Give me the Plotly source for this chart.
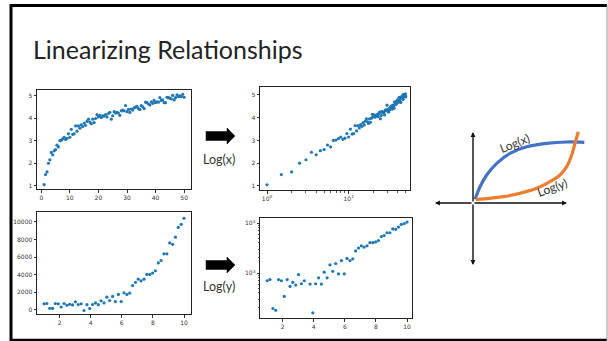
import plotly.graph_objects as go

W, H = 608, 341

# ---------------- data ----------------
x_log = [1.0, 1.5, 2.0, 2.5, 3.0, 3.5, 4.0, 4.5, 5.0, 5.5, 6.0, 6.5, 7.0, 7.5, 8.0, 8.5, 9.0, 9.5, 10.0,
         10.5, 11.0, 11.5, 12.0, 12.5, 13.0, 13.5, 14.0, 14.5, 15.0, 15.5, 16.0, 16.5, 17.0, 17.5, 18.0,
         18.5, 19.0, 19.5, 20.0, 20.5, 21.0, 21.5, 22.0, 22.5, 23.0, 23.5, 24.0, 24.5, 25.0, 25.5, 26.0,
         26.5, 27.0, 27.5, 28.0, 28.5, 29.0, 29.5, 30.0, 30.5, 31.0, 31.5, 32.0, 32.5, 33.0, 33.5, 34.0,
         34.5, 35.0, 35.5, 36.0, 36.5, 37.0, 37.5, 38.0, 38.5, 39.0, 39.5, 40.0, 40.5, 41.0, 41.5, 42.0,
         42.5, 43.0, 43.5, 44.0, 44.5, 45.0, 45.5, 46.0, 46.5, 47.0, 47.5, 48.0, 48.5, 49.0, 49.5, 50.0]
y_log = [1.05, 1.50, 1.62, 2.00, 2.15, 2.48, 2.37, 2.55, 2.60, 2.80, 2.72, 3.00, 3.02, 3.08, 3.15, 3.05,
         3.10, 3.30, 3.15, 3.50, 3.28, 3.30, 3.65, 3.42, 3.65, 3.55, 3.70, 3.62, 3.78, 3.68, 3.85, 3.95,
         3.82, 3.75, 3.95, 3.80, 3.98, 4.15, 4.05, 4.12, 4.02, 4.10, 4.08, 4.15, 4.05, 4.20, 4.25, 3.95,
         4.10, 4.28, 4.22, 4.25, 4.22, 4.12, 4.32, 4.35, 4.32, 4.55, 4.28, 4.38, 4.25, 4.40, 4.35, 4.45,
         4.48, 4.52, 4.42, 4.38, 4.55, 4.50, 4.42, 4.70, 4.68, 4.62, 4.58, 4.72, 4.65, 4.78, 4.68, 4.72,
         4.70, 4.90, 4.78, 4.80, 4.68, 4.68, 4.92, 4.90, 4.88, 4.85, 5.00, 4.80, 4.90, 5.02, 4.95, 4.98,
         4.95, 5.05, 4.92]

x_exp = [1.00, 1.18, 1.37, 1.55, 1.73, 1.92, 2.10, 2.29, 2.47, 2.65, 2.84, 3.02, 3.20, 3.39, 3.57, 3.76,
         3.94, 4.12, 4.31, 4.49, 4.67, 4.86, 5.04, 5.22, 5.41, 5.59, 5.78, 5.96, 6.14, 6.33, 6.51, 6.69,
         6.88, 7.06, 7.24, 7.43, 7.61, 7.80, 7.98, 8.16, 8.35, 8.53, 8.71, 8.90, 9.08, 9.27, 9.45, 9.63,
         9.82, 10.00]
y_exp = [700, 740, 195, 180, 740, 700, 340, 740, 540, 650, 575, 925, 610, 700, -60, 600,
         160, 610, 800, 600, 1040, 800, 1460, 1080, 1540, 960, 1770, 960, 1960, 1770, 1920, 2770,
         3150, 3500, 3300, 3500, 4040, 4040, 4190, 4460, 5350, 5620, 6380, 6380, 7620, 7460, 8270, 9380,
         9730, 10420]
y_exp_pos = [v if v > 0 else None for v in y_exp]

exp_ticks = [0, 2000, 4000, 6000, 8000, 10000]
exp_ticktext = ["0", "2000", "4000", "6000", "8000", "10000"]

# schematic diagram (units relative to the origin of the sketch)
diag_blue_x = [0.2, 0.7, 1.37, 2.37, 3.7, 5.37, 7.37, 9.37, 11.13]
diag_blue_y = [0.37, 1.63, 2.8, 3.97, 4.97, 5.63, 5.97, 6.1, 6.07]
diag_orange_x = [0.3, 1.37, 3.03, 4.7, 6.37, 7.7, 8.7, 9.37, 9.87, 10.2, 10.53]
diag_orange_y = [0.37, 0.43, 0.63, 0.97, 1.47, 2.13, 2.8, 3.63, 4.8, 5.97, 7.13]

BLUE = "#1f77b4"


def px(x):
    return x / W


def py(y):
    return 1 - y / H


fig = go.Figure()

mk = dict(color=BLUE, size=3.2)
fig.add_trace(go.Scatter(x=x_log, y=y_log, mode="markers", marker=mk, xaxis="x", yaxis="y"))
fig.add_trace(go.Scatter(x=x_log, y=y_log, mode="markers", marker=mk, xaxis="x2", yaxis="y2"))
fig.add_trace(go.Scatter(x=x_exp, y=y_exp, mode="markers", marker=mk, xaxis="x3", yaxis="y3"))
fig.add_trace(go.Scatter(x=x_exp, y=y_exp_pos, mode="markers", marker=mk, xaxis="x4", yaxis="y4"))

fig.add_trace(go.Scatter(x=diag_blue_x, y=diag_blue_y, mode="lines",
                         line=dict(color="#4472C4", width=3.2, shape="spline", smoothing=0.8),
                         xaxis="x5", yaxis="y5"))
fig.add_trace(go.Scatter(x=diag_orange_x, y=diag_orange_y, mode="lines",
                         line=dict(color="#ED7D31", width=3.2, shape="spline", smoothing=0.8),
                         xaxis="x5", yaxis="y5"))

tickfont = dict(family="DejaVu Sans", size=6, color="#333")
base = dict(showline=True, linecolor="#222", linewidth=1, mirror=True, ticks="outside",
            ticklen=2.5, tickwidth=0.8, tickcolor="#333", showgrid=False, zeroline=False,
            tickfont=tickfont, automargin=False)


def ax(**kw):
    d = dict(base)
    d.update(kw)
    return d


fig.update_layout(
    width=W, height=H, margin=dict(l=0, r=0, t=0, b=0),
    paper_bgcolor="white", plot_bgcolor="white", showlegend=False,
    xaxis=ax(domain=[px(37), px(191)], range=[-1.5, 52.4], tickvals=[0, 10, 20, 30, 40, 50], anchor="y"),
    yaxis=ax(domain=[py(189), py(90)], range=[0.86, 5.24], tickvals=[1, 2, 3, 4, 5], anchor="x"),
    xaxis2=ax(domain=[px(260), px(410)], type="log", range=[-0.086, 1.751], tickvals=[1, 10],
              ticktext=["10<sup>0</sup>", "10<sup>1</sup>"], anchor="y2",
              minor=dict(ticks="outside", ticklen=1.5, tickcolor="#555",
                         tickvals=[2, 3, 4, 5, 6, 7, 8, 9, 20, 30, 40, 50])),
    yaxis2=ax(domain=[py(190), py(87)], range=[0.82, 5.35], tickvals=[1, 2, 3, 4, 5], anchor="x2"),
    xaxis3=ax(domain=[px(37), px(191)], range=[0.55, 10.45], tickvals=[2, 4, 6, 8, 10], anchor="y3"),
    yaxis3=ax(domain=[py(314), py(212)], range=[-455, 11130],
              tickvals=exp_ticks, ticktext=exp_ticktext, anchor="x3"),
    xaxis4=ax(domain=[px(260), px(412)], range=[0.54, 10.32], tickvals=[2, 4, 6, 8, 10], anchor="y4"),
    yaxis4=ax(domain=[py(318), py(218)], type="log", range=[2.1, 4.1], tickvals=[1000, 10000],
              ticktext=["10<sup>3</sup>", "10<sup>4</sup>"], anchor="x4",
              minor=dict(ticks="outside", ticklen=1.5, tickcolor="#555",
                         tickvals=[200, 300, 400, 500, 600, 700, 800, 900, 2000, 3000, 4000, 5000,
                                   6000, 7000, 8000, 9000])),
    xaxis5=dict(domain=[px(420), px(600)], range=[-5.3, 12.7], visible=False, anchor="y5"),
    yaxis5=dict(domain=[py(280), py(100)], range=[-7.7, 10.3], visible=False, anchor="x5"),
)

# diagram axes with arrowheads
for (xe, ye) in [(9.4, 0), (-3.8, 0), (0, 7.1), (0, -6.2)]:
    fig.add_annotation(x=xe, y=ye, ax=0, ay=0, xref="x5", yref="y5", axref="x5", ayref="y5",
                       text="", showarrow=True, arrowhead=2, arrowsize=0.7, arrowwidth=1.4,
                       arrowcolor="#111")


def label(x, y, text, size, angle=0):
    fig.add_annotation(x=px(x), y=py(y), xref="paper", yref="paper", text=text, showarrow=False,
                       xanchor="center", yanchor="middle", textangle=angle,
                       font=dict(family="Lato, DejaVu Sans", size=size, color="#333"))


label(514, 143, "Log(x)", 12, -22)
label(552, 188, "Log(y)", 12, -20)
label(219, 159, "Log(x)", 12.5)
label(219, 286, "Log(y)", 12.5)

# title
fig.add_annotation(x=px(31), y=py(49), xref="paper", yref="paper", text="Linearizing Relationships",
                   showarrow=False, xanchor="left", yanchor="middle",
                   font=dict(family="Lato, DejaVu Sans", size=25, color="#222"))


# block arrows
def block_arrow(cy):
    path = (f"M {px(206)},{py(cy-4.5)} L {px(227)},{py(cy-4.5)} L {px(227)},{py(cy-8)} "
            f"L {px(235)},{py(cy)} L {px(227)},{py(cy+8)} L {px(227)},{py(cy+4.5)} "
            f"L {px(206)},{py(cy+4.5)} Z")
    fig.add_shape(type="path", path=path, xref="paper", yref="paper",
                  fillcolor="#000", line=dict(color="#000", width=0.5))


block_arrow(136)
block_arrow(265)

# slide border
fig.add_shape(type="line", xref="paper", yref="paper", x0=px(11), x1=px(11), y0=py(4), y1=py(341),
              line=dict(color="#000", width=3))
fig.add_shape(type="line", xref="paper", yref="paper", x0=px(10), x1=px(607), y0=py(5.5), y1=py(5.5),
              line=dict(color="#000", width=3))
fig.add_shape(type="line", xref="paper", yref="paper", x0=px(10), x1=px(607), y0=py(340), y1=py(340),
              line=dict(color="#000", width=2.5))
fig.add_shape(type="line", xref="paper", yref="paper", x0=px(607), x1=px(607), y0=py(5), y1=py(341),
              line=dict(color="#999", width=1))

fig.write_html("out.html", config={"displayModeBar": False},
               post_script="document.body.style.margin='0';document.body.style.overflow='hidden';")
